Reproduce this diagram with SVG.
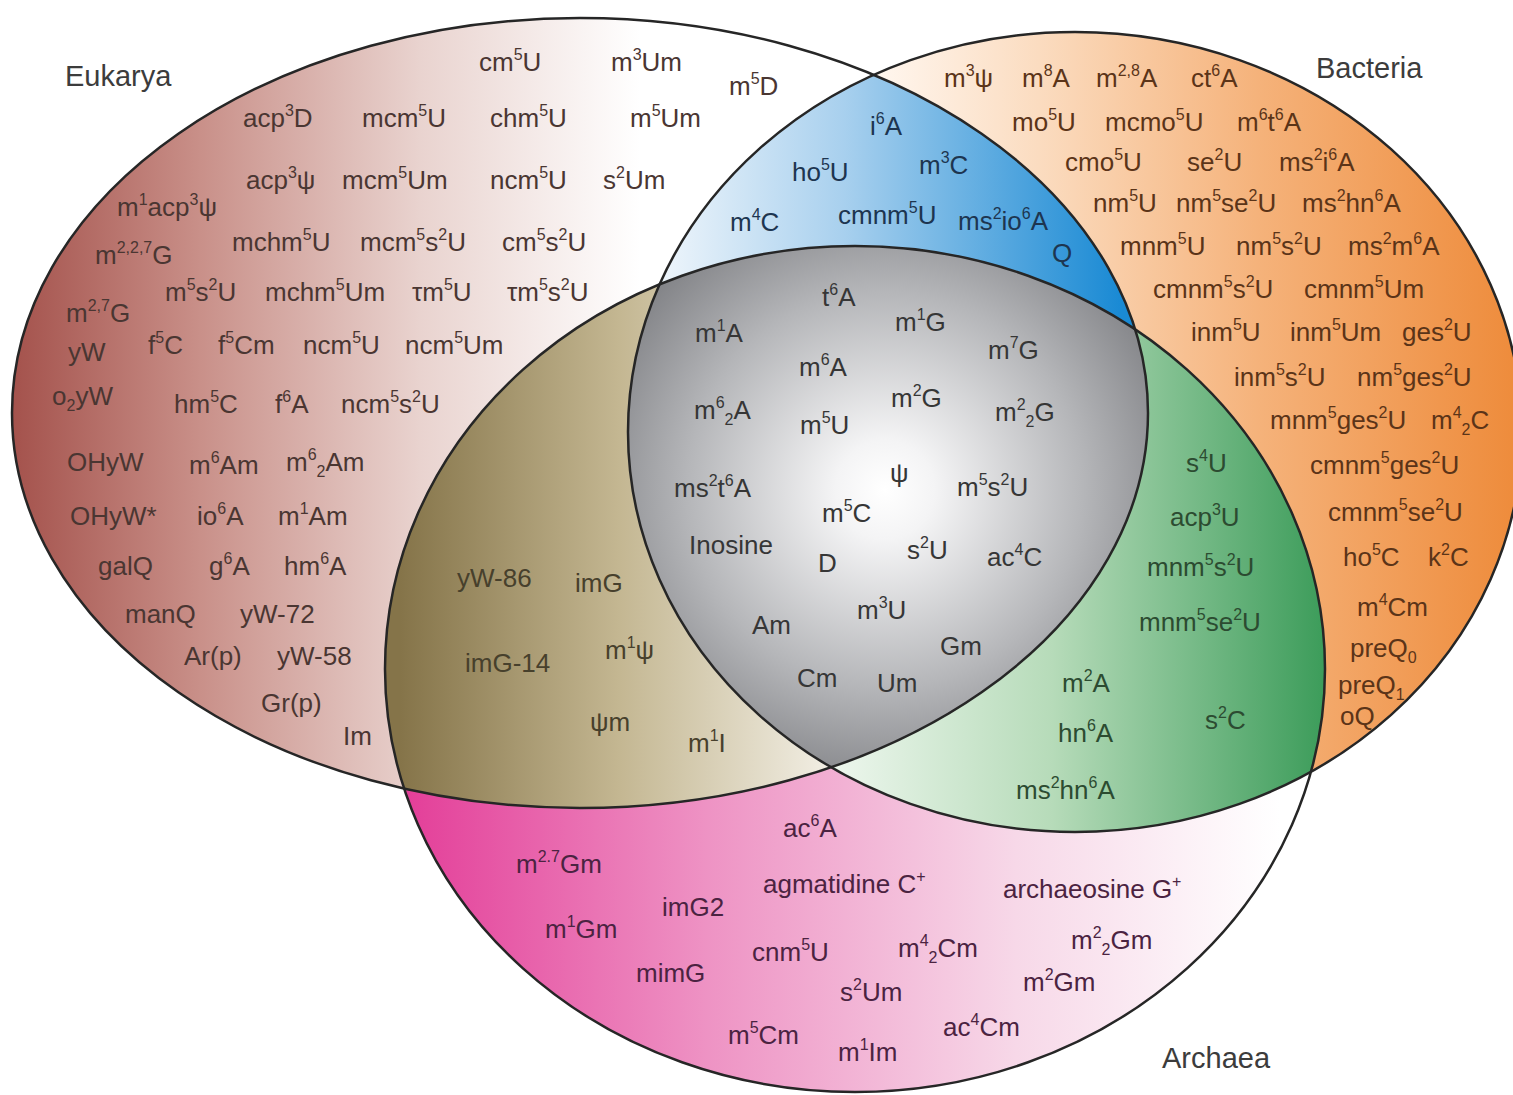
<svg xmlns="http://www.w3.org/2000/svg" width="1513" height="1095" viewBox="0 0 1513 1095">
<style>
.t{font-family:"Liberation Sans",Arial,Helvetica,sans-serif;font-size:26px}
.s{font-size:16px}
.lab{font-family:"Liberation Sans",Arial,Helvetica,sans-serif;font-size:29px;fill:#3c3c3c}
.ce{fill:#4a3632}.cb{fill:#5b3418}.cbl{fill:#1d3550}.ca{fill:#4b2341}.ct{fill:#47402c}.cg{fill:#2c4b31}.cc{fill:#363636}
.ol{fill:none;stroke:#262626;stroke-width:2.5}
</style>
<defs>
<clipPath id="cE"><ellipse cx="580" cy="413" rx="568" ry="395"/></clipPath>
<clipPath id="cB"><ellipse cx="1075" cy="432" rx="447" ry="400"/></clipPath>
<clipPath id="cA"><ellipse cx="855" cy="669" rx="470" ry="423"/></clipPath>
<linearGradient id="gE" gradientUnits="userSpaceOnUse" x1="12" y1="0" x2="640" y2="0"><stop offset="0" stop-color="#a4524c"/><stop offset="0.3" stop-color="#c99089"/><stop offset="0.65" stop-color="#e9d3cf"/><stop offset="1" stop-color="#ffffff"/></linearGradient>
<linearGradient id="gB" gradientUnits="userSpaceOnUse" x1="880" y1="0" x2="1513" y2="0"><stop offset="0" stop-color="#fff6ee"/><stop offset="0.25" stop-color="#fbdcc0"/><stop offset="0.6" stop-color="#f5b27a"/><stop offset="1" stop-color="#ee8c3c"/></linearGradient>
<linearGradient id="gBl" gradientUnits="userSpaceOnUse" x1="660" y1="0" x2="1120" y2="0"><stop offset="0" stop-color="#eef5fb"/><stop offset="0.4" stop-color="#a8d0ee"/><stop offset="1" stop-color="#1a8ad4"/></linearGradient>
<linearGradient id="gA" gradientUnits="userSpaceOnUse" x1="400" y1="0" x2="1280" y2="0"><stop offset="0" stop-color="#e33d98"/><stop offset="0.35" stop-color="#ee93c4"/><stop offset="0.7" stop-color="#f7d8e8"/><stop offset="1" stop-color="#ffffff"/></linearGradient>
<linearGradient id="gT" gradientUnits="userSpaceOnUse" x1="400" y1="0" x2="840" y2="0"><stop offset="0" stop-color="#857449"/><stop offset="0.5" stop-color="#c4b792"/><stop offset="1" stop-color="#f4f1e8"/></linearGradient>
<linearGradient id="gG" gradientUnits="userSpaceOnUse" x1="830" y1="0" x2="1325" y2="0"><stop offset="0" stop-color="#eef7ee"/><stop offset="0.45" stop-color="#b6dbb9"/><stop offset="1" stop-color="#3c9c5a"/></linearGradient>
<radialGradient id="gC" gradientUnits="userSpaceOnUse" cx="885" cy="490" r="330"><stop offset="0" stop-color="#ffffff"/><stop offset="0.15" stop-color="#f4f4f5"/><stop offset="0.6" stop-color="#b5b6b9"/><stop offset="1" stop-color="#77787c"/></radialGradient>
</defs>
<rect width="1513" height="1095" fill="#ffffff"/>

<g id="eukarya">
<rect width="1513" height="1095" fill="url(#gE)" clip-path="url(#cE)"/>
<text class="lab" x="65" y="86">Eukarya</text>
<g class="t ce">
<text x="479" y="71">cm<tspan class="s" dy="-11">5</tspan><tspan dy="11">U</tspan></text>
<text x="611" y="71">m<tspan class="s" dy="-11">3</tspan><tspan dy="11">Um</tspan></text>
<text x="729" y="95">m<tspan class="s" dy="-11">5</tspan><tspan dy="11">D</tspan></text>
<text x="243" y="127">acp<tspan class="s" dy="-11">3</tspan><tspan dy="11">D</tspan></text>
<text x="362" y="127">mcm<tspan class="s" dy="-11">5</tspan><tspan dy="11">U</tspan></text>
<text x="490" y="127">chm<tspan class="s" dy="-11">5</tspan><tspan dy="11">U</tspan></text>
<text x="630" y="127">m<tspan class="s" dy="-11">5</tspan><tspan dy="11">Um</tspan></text>
<text x="246" y="189">acp<tspan class="s" dy="-11">3</tspan><tspan dy="11">ψ</tspan></text>
<text x="342" y="189">mcm<tspan class="s" dy="-11">5</tspan><tspan dy="11">Um</tspan></text>
<text x="490" y="189">ncm<tspan class="s" dy="-11">5</tspan><tspan dy="11">U</tspan></text>
<text x="603" y="189">s<tspan class="s" dy="-11">2</tspan><tspan dy="11">Um</tspan></text>
<text x="117" y="216">m<tspan class="s" dy="-11">1</tspan><tspan dy="11">acp</tspan><tspan class="s" dy="-11">3</tspan><tspan dy="11">ψ</tspan></text>
<text x="95" y="264">m<tspan class="s" dy="-11">2,2,7</tspan><tspan dy="11">G</tspan></text>
<text x="232" y="251">mchm<tspan class="s" dy="-11">5</tspan><tspan dy="11">U</tspan></text>
<text x="360" y="251">mcm<tspan class="s" dy="-11">5</tspan><tspan dy="11">s</tspan><tspan class="s" dy="-11">2</tspan><tspan dy="11">U</tspan></text>
<text x="502" y="251">cm<tspan class="s" dy="-11">5</tspan><tspan dy="11">s</tspan><tspan class="s" dy="-11">2</tspan><tspan dy="11">U</tspan></text>
<text x="165" y="301">m<tspan class="s" dy="-11">5</tspan><tspan dy="11">s</tspan><tspan class="s" dy="-11">2</tspan><tspan dy="11">U</tspan></text>
<text x="265" y="301">mchm<tspan class="s" dy="-11">5</tspan><tspan dy="11">Um</tspan></text>
<text x="412" y="301">τm<tspan class="s" dy="-11">5</tspan><tspan dy="11">U</tspan></text>
<text x="507" y="301">τm<tspan class="s" dy="-11">5</tspan><tspan dy="11">s</tspan><tspan class="s" dy="-11">2</tspan><tspan dy="11">U</tspan></text>
<text x="66" y="322">m<tspan class="s" dy="-11">2,7</tspan><tspan dy="11">G</tspan></text>
<text x="68" y="361">yW</text>
<text x="148" y="354">f<tspan class="s" dy="-11">5</tspan><tspan dy="11">C</tspan></text>
<text x="218" y="354">f<tspan class="s" dy="-11">5</tspan><tspan dy="11">Cm</tspan></text>
<text x="303" y="354">ncm<tspan class="s" dy="-11">5</tspan><tspan dy="11">U</tspan></text>
<text x="405" y="354">ncm<tspan class="s" dy="-11">5</tspan><tspan dy="11">Um</tspan></text>
<text x="52" y="405">o<tspan class="s" dy="6">2</tspan><tspan dy="-6">yW</tspan></text>
<text x="174" y="413">hm<tspan class="s" dy="-11">5</tspan><tspan dy="11">C</tspan></text>
<text x="275" y="413">f<tspan class="s" dy="-11">6</tspan><tspan dy="11">A</tspan></text>
<text x="341" y="413">ncm<tspan class="s" dy="-11">5</tspan><tspan dy="11">s</tspan><tspan class="s" dy="-11">2</tspan><tspan dy="11">U</tspan></text>
<text x="67" y="471">OHyW</text>
<text x="189" y="474">m<tspan class="s" dy="-11">6</tspan><tspan dy="11">Am</tspan></text>
<text x="286" y="471">m<tspan class="s" dy="-11">6</tspan><tspan class="s" dy="17">2</tspan><tspan dy="-6">Am</tspan></text>
<text x="70" y="525">OHyW*</text>
<text x="197" y="525">io<tspan class="s" dy="-11">6</tspan><tspan dy="11">A</tspan></text>
<text x="278" y="525">m<tspan class="s" dy="-11">1</tspan><tspan dy="11">Am</tspan></text>
<text x="98" y="575">galQ</text>
<text x="209" y="575">g<tspan class="s" dy="-11">6</tspan><tspan dy="11">A</tspan></text>
<text x="284" y="575">hm<tspan class="s" dy="-11">6</tspan><tspan dy="11">A</tspan></text>
<text x="125" y="623">manQ</text>
<text x="240" y="623">yW-72</text>
<text x="184" y="665">Ar(p)</text>
<text x="277" y="665">yW-58</text>
<text x="261" y="712">Gr(p)</text>
<text x="343" y="745">Im</text>
</g>
</g>

<g id="bacteria">
<rect width="1513" height="1095" fill="url(#gB)" clip-path="url(#cB)"/>
<text class="lab" x="1316" y="78">Bacteria</text>
<g class="t cb">
<text x="944" y="87">m<tspan class="s" dy="-11">3</tspan><tspan dy="11">ψ</tspan></text>
<text x="1022" y="87">m<tspan class="s" dy="-11">8</tspan><tspan dy="11">A</tspan></text>
<text x="1096" y="87">m<tspan class="s" dy="-11">2,8</tspan><tspan dy="11">A</tspan></text>
<text x="1191" y="87">ct<tspan class="s" dy="-11">6</tspan><tspan dy="11">A</tspan></text>
<text x="1012" y="131">mo<tspan class="s" dy="-11">5</tspan><tspan dy="11">U</tspan></text>
<text x="1105" y="131">mcmo<tspan class="s" dy="-11">5</tspan><tspan dy="11">U</tspan></text>
<text x="1237" y="131">m<tspan class="s" dy="-11">6</tspan><tspan dy="11">t</tspan><tspan class="s" dy="-11">6</tspan><tspan dy="11">A</tspan></text>
<text x="1065" y="171">cmo<tspan class="s" dy="-11">5</tspan><tspan dy="11">U</tspan></text>
<text x="1187" y="171">se<tspan class="s" dy="-11">2</tspan><tspan dy="11">U</tspan></text>
<text x="1279" y="171">ms<tspan class="s" dy="-11">2</tspan><tspan dy="11">i</tspan><tspan class="s" dy="-11">6</tspan><tspan dy="11">A</tspan></text>
<text x="1093" y="212">nm<tspan class="s" dy="-11">5</tspan><tspan dy="11">U</tspan></text>
<text x="1176" y="212">nm<tspan class="s" dy="-11">5</tspan><tspan dy="11">se</tspan><tspan class="s" dy="-11">2</tspan><tspan dy="11">U</tspan></text>
<text x="1302" y="212">ms<tspan class="s" dy="-11">2</tspan><tspan dy="11">hn</tspan><tspan class="s" dy="-11">6</tspan><tspan dy="11">A</tspan></text>
<text x="1120" y="255">mnm<tspan class="s" dy="-11">5</tspan><tspan dy="11">U</tspan></text>
<text x="1236" y="255">nm<tspan class="s" dy="-11">5</tspan><tspan dy="11">s</tspan><tspan class="s" dy="-11">2</tspan><tspan dy="11">U</tspan></text>
<text x="1348" y="255">ms<tspan class="s" dy="-11">2</tspan><tspan dy="11">m</tspan><tspan class="s" dy="-11">6</tspan><tspan dy="11">A</tspan></text>
<text x="1153" y="298">cmnm<tspan class="s" dy="-11">5</tspan><tspan dy="11">s</tspan><tspan class="s" dy="-11">2</tspan><tspan dy="11">U</tspan></text>
<text x="1304" y="298">cmnm<tspan class="s" dy="-11">5</tspan><tspan dy="11">Um</tspan></text>
<text x="1191" y="341">inm<tspan class="s" dy="-11">5</tspan><tspan dy="11">U</tspan></text>
<text x="1290" y="341">inm<tspan class="s" dy="-11">5</tspan><tspan dy="11">Um</tspan></text>
<text x="1402" y="341">ges<tspan class="s" dy="-11">2</tspan><tspan dy="11">U</tspan></text>
<text x="1234" y="386">inm<tspan class="s" dy="-11">5</tspan><tspan dy="11">s</tspan><tspan class="s" dy="-11">2</tspan><tspan dy="11">U</tspan></text>
<text x="1357" y="386">nm<tspan class="s" dy="-11">5</tspan><tspan dy="11">ges</tspan><tspan class="s" dy="-11">2</tspan><tspan dy="11">U</tspan></text>
<text x="1270" y="429">mnm<tspan class="s" dy="-11">5</tspan><tspan dy="11">ges</tspan><tspan class="s" dy="-11">2</tspan><tspan dy="11">U</tspan></text>
<text x="1431" y="429">m<tspan class="s" dy="-11">4</tspan><tspan class="s" dy="17">2</tspan><tspan dy="-6">C</tspan></text>
<text x="1310" y="474">cmnm<tspan class="s" dy="-11">5</tspan><tspan dy="11">ges</tspan><tspan class="s" dy="-11">2</tspan><tspan dy="11">U</tspan></text>
<text x="1328" y="521">cmnm<tspan class="s" dy="-11">5</tspan><tspan dy="11">se</tspan><tspan class="s" dy="-11">2</tspan><tspan dy="11">U</tspan></text>
<text x="1343" y="566">ho<tspan class="s" dy="-11">5</tspan><tspan dy="11">C</tspan></text>
<text x="1428" y="566">k<tspan class="s" dy="-11">2</tspan><tspan dy="11">C</tspan></text>
<text x="1357" y="616">m<tspan class="s" dy="-11">4</tspan><tspan dy="11">Cm</tspan></text>
<text x="1350" y="657">preQ<tspan class="s" dy="6">0</tspan></text>
<text x="1338" y="694">preQ<tspan class="s" dy="6">1</tspan></text>
<text x="1340" y="725">oQ</text>
</g>
</g>

<g id="eukarya-bacteria">
<g clip-path="url(#cE)"><rect width="1513" height="1095" fill="url(#gBl)" clip-path="url(#cB)"/></g>
<g class="t cbl">
<text x="870" y="135">i<tspan class="s" dy="-11">6</tspan><tspan dy="11">A</tspan></text>
<text x="792" y="181">ho<tspan class="s" dy="-11">5</tspan><tspan dy="11">U</tspan></text>
<text x="919" y="174">m<tspan class="s" dy="-11">3</tspan><tspan dy="11">C</tspan></text>
<text x="730" y="231">m<tspan class="s" dy="-11">4</tspan><tspan dy="11">C</tspan></text>
<text x="838" y="224">cmnm<tspan class="s" dy="-11">5</tspan><tspan dy="11">U</tspan></text>
<text x="958" y="230">ms<tspan class="s" dy="-11">2</tspan><tspan dy="11">io</tspan><tspan class="s" dy="-11">6</tspan><tspan dy="11">A</tspan></text>
<text x="1052" y="262">Q</text>
</g>
</g>

<g id="archaea">
<rect width="1513" height="1095" fill="url(#gA)" clip-path="url(#cA)"/>
<text class="lab" x="1162" y="1068">Archaea</text>
<g class="t ca">
<text x="783" y="837">ac<tspan class="s" dy="-11">6</tspan><tspan dy="11">A</tspan></text>
<text x="516" y="873">m<tspan class="s" dy="-11">2.7</tspan><tspan dy="11">Gm</tspan></text>
<text x="763" y="893">agmatidine C<tspan class="s" dy="-11">+</tspan></text>
<text x="1003" y="898">archaeosine G<tspan class="s" dy="-11">+</tspan></text>
<text x="662" y="916">imG2</text>
<text x="545" y="938">m<tspan class="s" dy="-11">1</tspan><tspan dy="11">Gm</tspan></text>
<text x="752" y="961">cnm<tspan class="s" dy="-11">5</tspan><tspan dy="11">U</tspan></text>
<text x="898" y="957">m<tspan class="s" dy="-11">4</tspan><tspan class="s" dy="17">2</tspan><tspan dy="-6">Cm</tspan></text>
<text x="1071" y="949">m<tspan class="s" dy="-11">2</tspan><tspan class="s" dy="17">2</tspan><tspan dy="-6">Gm</tspan></text>
<text x="636" y="982">mimG</text>
<text x="840" y="1001">s<tspan class="s" dy="-11">2</tspan><tspan dy="11">Um</tspan></text>
<text x="1023" y="991">m<tspan class="s" dy="-11">2</tspan><tspan dy="11">Gm</tspan></text>
<text x="728" y="1044">m<tspan class="s" dy="-11">5</tspan><tspan dy="11">Cm</tspan></text>
<text x="943" y="1036">ac<tspan class="s" dy="-11">4</tspan><tspan dy="11">Cm</tspan></text>
<text x="838" y="1061">m<tspan class="s" dy="-11">1</tspan><tspan dy="11">Im</tspan></text>
</g>
</g>

<g id="eukarya-archaea">
<g clip-path="url(#cE)"><rect width="1513" height="1095" fill="url(#gT)" clip-path="url(#cA)"/></g>
<g class="t ct">
<text x="457" y="587">yW-86</text>
<text x="575" y="592">imG</text>
<text x="465" y="672">imG-14</text>
<text x="605" y="659">m<tspan class="s" dy="-11">1</tspan><tspan dy="11">ψ</tspan></text>
<text x="590" y="731">ψm</text>
<text x="688" y="752">m<tspan class="s" dy="-11">1</tspan><tspan dy="11">I</tspan></text>
</g>
</g>

<g id="bacteria-archaea">
<g clip-path="url(#cB)"><rect width="1513" height="1095" fill="url(#gG)" clip-path="url(#cA)"/></g>
<g class="t cg">
<text x="1186" y="472">s<tspan class="s" dy="-11">4</tspan><tspan dy="11">U</tspan></text>
<text x="1170" y="526">acp<tspan class="s" dy="-11">3</tspan><tspan dy="11">U</tspan></text>
<text x="1147" y="576">mnm<tspan class="s" dy="-11">5</tspan><tspan dy="11">s</tspan><tspan class="s" dy="-11">2</tspan><tspan dy="11">U</tspan></text>
<text x="1139" y="631">mnm<tspan class="s" dy="-11">5</tspan><tspan dy="11">se</tspan><tspan class="s" dy="-11">2</tspan><tspan dy="11">U</tspan></text>
<text x="1062" y="692">m<tspan class="s" dy="-11">2</tspan><tspan dy="11">A</tspan></text>
<text x="1205" y="729">s<tspan class="s" dy="-11">2</tspan><tspan dy="11">C</tspan></text>
<text x="1058" y="742">hn<tspan class="s" dy="-11">6</tspan><tspan dy="11">A</tspan></text>
<text x="1016" y="799">ms<tspan class="s" dy="-11">2</tspan><tspan dy="11">hn</tspan><tspan class="s" dy="-11">6</tspan><tspan dy="11">A</tspan></text>
</g>
</g>

<g id="core">
<g clip-path="url(#cE)"><g clip-path="url(#cB)"><rect width="1513" height="1095" fill="url(#gC)" clip-path="url(#cA)"/></g></g>
<g class="t cc">
<text x="822" y="306">t<tspan class="s" dy="-11">6</tspan><tspan dy="11">A</tspan></text>
<text x="695" y="342">m<tspan class="s" dy="-11">1</tspan><tspan dy="11">A</tspan></text>
<text x="895" y="331">m<tspan class="s" dy="-11">1</tspan><tspan dy="11">G</tspan></text>
<text x="988" y="359">m<tspan class="s" dy="-11">7</tspan><tspan dy="11">G</tspan></text>
<text x="799" y="376">m<tspan class="s" dy="-11">6</tspan><tspan dy="11">A</tspan></text>
<text x="694" y="419">m<tspan class="s" dy="-11">6</tspan><tspan class="s" dy="17">2</tspan><tspan dy="-6">A</tspan></text>
<text x="891" y="407">m<tspan class="s" dy="-11">2</tspan><tspan dy="11">G</tspan></text>
<text x="800" y="434">m<tspan class="s" dy="-11">5</tspan><tspan dy="11">U</tspan></text>
<text x="995" y="421">m<tspan class="s" dy="-11">2</tspan><tspan class="s" dy="17">2</tspan><tspan dy="-6">G</tspan></text>
<text x="890" y="482">ψ</text>
<text x="674" y="497">ms<tspan class="s" dy="-11">2</tspan><tspan dy="11">t</tspan><tspan class="s" dy="-11">6</tspan><tspan dy="11">A</tspan></text>
<text x="957" y="496">m<tspan class="s" dy="-11">5</tspan><tspan dy="11">s</tspan><tspan class="s" dy="-11">2</tspan><tspan dy="11">U</tspan></text>
<text x="822" y="522">m<tspan class="s" dy="-11">5</tspan><tspan dy="11">C</tspan></text>
<text x="689" y="554">Inosine</text>
<text x="907" y="559">s<tspan class="s" dy="-11">2</tspan><tspan dy="11">U</tspan></text>
<text x="987" y="566">ac<tspan class="s" dy="-11">4</tspan><tspan dy="11">C</tspan></text>
<text x="818" y="572">D</text>
<text x="857" y="619">m<tspan class="s" dy="-11">3</tspan><tspan dy="11">U</tspan></text>
<text x="752" y="634">Am</text>
<text x="940" y="655">Gm</text>
<text x="797" y="687">Cm</text>
<text x="877" y="692">Um</text>
</g>
</g>

<g id="connectors"></g>

<g id="outlines">
<ellipse class="ol" cx="580" cy="413" rx="568" ry="395"/>
<ellipse class="ol" cx="1075" cy="432" rx="447" ry="400"/>
<ellipse class="ol" cx="855" cy="669" rx="470" ry="423"/>
</g>
</svg>
